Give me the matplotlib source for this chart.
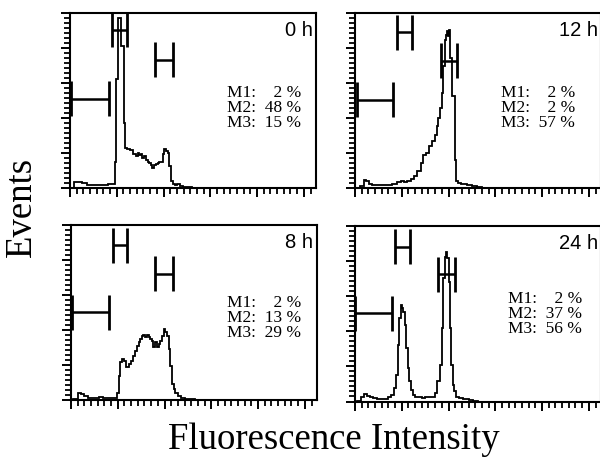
import numpy as np
import matplotlib
matplotlib.use("Agg")
import matplotlib.pyplot as plt
from matplotlib.ticker import MultipleLocator

# ---------------- data ----------------
panel_labels = ["0 h", "12 h", "8 h", "24 h"]

m_percent = {
    "0 h": [2, 48, 15],
    "12 h": [2, 2, 57],
    "8 h": [2, 13, 29],
    "24 h": [2, 37, 56],
}

# marker gates: (x_start, x_end, y_level)
markers = {
    "0 h": [(1.0, 41.7, 51), (44.6, 60.6, 90.5), (90.9, 110.5, 73.3)],
    "12 h": [(1.8, 41.0, 50.5), (45.3, 61.4, 89), (91.6, 108.8, 72.8)],
    "8 h": [(0.7, 40.2, 50.2), (44.5, 59.9, 88.5), (90.2, 109.4, 72.2)],
    "24 h": [(0.0, 39.2, 50.3), (42.8, 58.8, 88.2), (89.1, 107.0, 72.5)],
}

x_0h = [0, 2.5, 5.3, 10.7, 16, 21.4, 30.3, 37.4, 44.6, 47.4, 48.9, 50.3, 51.7, 53.9, 55.3,
        57, 58.1, 59.5, 62.4, 65.9, 69.5, 71.3, 73.1, 74.9, 76.6, 78.4, 80.2, 82, 83.8,
        85.6, 87.3, 89.1, 90.9, 92.7, 94.5, 96.3, 98, 99.8, 101.6, 103.4, 105.2, 107,
        108.8, 110.5, 113, 115.9, 119.4, 123, 126.5, 133.7, 140, 263]
y_0h = [0, 0, 3.2, 3.4, 2.9, 1.7, 1.5, 1.7, 2.3, 2.5, 14.9, 62.5, 97, 97, 81,
        81, 37, 22.9, 22.5, 21.5, 19.6, 18.1, 20, 18.9, 19.6, 17.1, 18.1, 15.8, 15,
        14.3, 13, 11.2, 13.1, 13.9, 14.3, 14.7, 14.9, 19.6, 22.5, 21.3, 20, 12.4,
        4.2, 2.5, 1.9, 2.5, 1.3, 0.8, 0.4, 0.2, 0, 0]

x_12h = [0, 1.8, 7.9, 10.4, 13.2, 16.8, 20.3, 34.6, 43.5, 47.1, 50.6, 54.2, 57.8, 61.3,
         64.9, 68.5, 72, 73.8, 77.4, 81, 84.5, 86.3, 88.1, 89.9, 91.6, 93.4, 95.2, 96.3,
         97.7, 98.8, 99.9, 101, 102.4, 104.2, 106, 107.1, 108.8, 111.3, 114.9, 118.5,
         122, 127.4, 132.7, 138, 145, 263]
y_12h = [0, 0, 1, 4.8, 3.8, 2.3, 1.7, 1.7, 2.3, 3.2, 3.8, 3.4, 4.2, 5.3,
         7, 9.5, 14.3, 19, 20, 23.8, 26.7, 30.5, 35.2, 40, 45.7, 54.3, 69.5, 84.8,
         87.6, 89.5, 86.7, 90.5, 74.3, 52.4, 52.4, 16.2, 3.8, 2.9, 2.3, 2.5,
         1.7, 1.3, 0.6, 0.2, 0, 0]

x_8h = [0, 5.3, 8.9, 12.4, 16, 19.6, 23.1, 28.5, 32.1, 35.6, 42.8, 48.2, 49.9, 51.7,
        53.5, 55.3, 57.8, 60.6, 62.4, 64.9, 67.7, 69.5, 71.3, 73.1, 74.9, 76.6, 78.4,
        80.2, 82, 83.8, 85.6, 87.3, 89.1, 90.9, 92.7, 94.5, 96.3, 98, 99.8, 101.6,
        103.4, 105.2, 107, 108.8, 110.5, 112.3, 115.9, 119.4, 124.8, 130.1, 136, 263]
y_8h = [0, 0.8, 4.2, 3.3, 2.3, 1.3, 1.3, 1.3, 1.7, 1, 1, 1.3, 4.2, 13.8,
        21.5, 23.4, 22.4, 18.6, 20.5, 22.4, 25.3, 28.2, 31, 33, 34.9, 36.8, 37.2,
        35.8, 37.2, 35.8, 34.9, 33.9, 30.1, 33, 30.1, 32, 33.9, 36.8, 40.6, 38.7,
        36.8, 29.1, 19.5, 9, 6.1, 4.2, 2.3, 1.3, 0.8, 0.4, 0, 0]

x_24h = [0, 5.3, 8.2, 10.7, 14.3, 17.8, 21.4, 26.7, 33.9, 37.4, 40.3, 42.8, 44.6, 46.3,
         48.1, 49.9, 51, 52.4, 53.8, 55.3, 57, 58.8, 60.6, 62.4, 65.9, 69.5, 73.1, 76.6,
         80.2, 83.8, 86.6, 89.1, 91.6, 93.8, 95.2, 96.6, 98, 99.5, 100.9, 102.3, 103.7,
         105.2, 107, 109.4, 112.3, 119.4, 124.8, 128.4, 134, 263]
y_24h = [0, 0.4, 2.8, 4.4, 3.2, 2.3, 1.9, 1.5, 1.5, 2.3, 3.8, 7.6, 15.2, 32.2,
         47.4, 55, 53.1, 51.2, 43.6, 30.4, 19, 11.4, 6.6, 3.8, 2.8, 2.3, 1.9, 2.3,
         2.3, 2.8, 4.7, 11.4, 20.9, 41.7, 70.2, 82.5, 85.4, 81.6, 68.3, 41.7, 20.9,
         9.5, 5.7, 2.8, 1.9, 1.3, 0.8, 0.4, 0, 0]

series = {"0 h": (x_0h, y_0h), "12 h": (x_12h, y_12h),
          "8 h": (x_8h, y_8h), "24 h": (x_24h, y_24h)}

# ---------------- figure ----------------
W, H = 600, 466
fig = plt.figure(figsize=(W / 100, H / 100), dpi=100)

def px_rect(left, top, right, bottom):
    return [left / W, 1 - bottom / H, (right - left) / W, (bottom - top) / H]

rects = {
    "0 h": px_rect(70, 13, 316, 188),
    "12 h": px_rect(355, 13, 601, 188),
    "8 h": px_rect(71, 225, 317, 400),
    "24 h": px_rect(355, 226, 601, 401.5),
}
# text anchor positions (pixels): time label right/baseline, M text left/top
label_pos = {"0 h": (313, 36), "12 h": (598, 36), "8 h": (313, 248), "24 h": (598, 249)}
mtext_pos = {"0 h": (227, 85), "12 h": (501, 85), "8 h": (227, 295), "24 h": (508, 291)}

serif = ["Liberation Serif", "DejaVu Serif"]
sans = ["Liberation Sans", "DejaVu Sans"]

for lab in panel_labels:
    ax = fig.add_axes(rects[lab])
    x, y = series[lab]
    ax.plot(x, y, color="black", lw=1.3, drawstyle="steps-mid", solid_joinstyle="miter")
    for (x0, x1, yl) in markers[lab]:
        ax.plot([x0, x1], [yl, yl], color="black", lw=1.8, solid_capstyle="butt")
        for xv in (x0, x1):
            ax.plot([xv, xv], [yl - 10, yl + 10], color="black", lw=2.0, solid_capstyle="butt")
    ax.set_xlim(0, 263)
    ax.set_ylim(0, 100)
    ax.xaxis.set_major_locator(MultipleLocator(50))
    ax.xaxis.set_minor_locator(MultipleLocator(50 / 7))
    ax.yaxis.set_major_locator(MultipleLocator(20))
    ax.yaxis.set_minor_locator(MultipleLocator(20 / 7))
    ax.tick_params(axis="both", which="major", direction="out", length=6.5, width=1.4,
                   labelbottom=False, labelleft=False)
    ax.tick_params(axis="both", which="minor", direction="out", length=4.2, width=1.3)
    for s in ax.spines.values():
        s.set_linewidth(1.5)

    tx, ty = label_pos[lab]
    fig.text(tx / W, 1 - ty / H, lab, ha="right", va="baseline",
             fontsize=14.5, family=sans)
    mx, my = mtext_pos[lab]
    lines = []
    for name, val in zip(["M1", "M2", "M3"], m_percent[lab]):
        pad = "    " if val < 10 else "  "
        lines.append(f"{name}:{pad}{val} %")
    fig.text(mx / W, 1 - my / H, "\n".join(lines), ha="left", va="top",
             fontsize=12.5, family=serif, linespacing=0.9)

fig.text(22 / W, 1 - 207 / H, "Events", rotation=90, ha="center", va="center",
         fontsize=26.5, family=serif)
fig.text(334 / W, 1 - 440 / H, "Fluorescence Intensity", ha="center", va="center",
         fontsize=26.5, family=serif)

fig.savefig("out.png", dpi=100)
